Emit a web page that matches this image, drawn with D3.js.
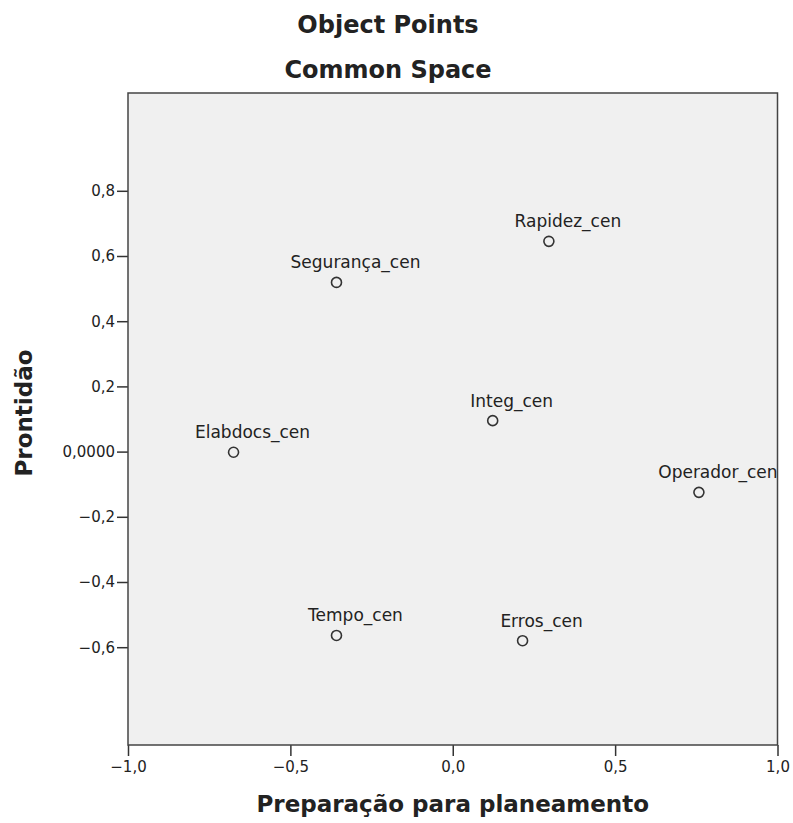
<!DOCTYPE html>
<html lang="pt">
  <head>
    <meta charset="UTF-8" />
    <title>Object Points Common Space</title>
    <style>
      body { margin: 0; background: #fff; }
      svg text { font-family: "DejaVu Sans", Verdana, sans-serif; fill: #222; }
    </style>
  </head>
  <body>
    <svg width="793" height="823"></svg>

    <script src="https://d3js.org/d3.v7.min.js"></script>
    <script>
      // Point labels and coordinates
      const labels = ["Rapidez_cen", "Segurança_cen", "Integ_cen", "Elabdocs_cen", "Operador_cen", "Tempo_cen", "Erros_cen"];
      const dim1 = [0.296, -0.358, 0.123, -0.675, 0.758, -0.358, 0.215];
      const dim2 = [0.645, 0.519, 0.095, -0.002, -0.125, -0.564, -0.580];

      const xTicks = [-1.0, -0.5, 0.0, 0.5, 1.0];
      const yTicks = [0.8, 0.6, 0.4, 0.2, 0.0, -0.2, -0.4, -0.6];

      const plotL = 128, plotR = 777.5, plotT = 93, plotB = 745;

      const svg = d3.select("svg");

      const xScale = d3.scaleLinear().domain([-1, 1]).range([plotL, plotR]);
      const yScale = d3.scaleLinear().domain([-0.9, 1.1]).range([plotB, plotT]);

      const fmt = (d) => (d < 0 ? "\u2212" : "") + Math.abs(d).toFixed(1).replace(".", ",");

      // plot background
      svg.append("rect")
        .attr("x", plotL).attr("y", plotT)
        .attr("width", plotR - plotL).attr("height", plotB - plotT)
        .attr("fill", "#f0f0f0");

      // axes
      const xAxis = d3.axisBottom(xScale).tickValues(xTicks).tickSize(11).tickSizeOuter(0).tickPadding(5).tickFormat(fmt);
      const yAxis = d3.axisLeft(yScale).tickValues(yTicks).tickSize(11).tickSizeOuter(0).tickPadding(2)
        .tickFormat((d) => (d === 0 ? "0,0000" : fmt(d)));

      const gx = svg.append("g").attr("transform", `translate(0,${plotB})`).call(xAxis);
      const gy = svg.append("g").attr("transform", `translate(${plotL},0)`).call(yAxis);
      [gx, gy].forEach((g) => {
        g.select(".domain").remove();
        g.selectAll(".tick line").attr("stroke", "#333").attr("stroke-width", 1.5);
        g.selectAll(".tick text").style("font-size", "15px").attr("fill", "#333");
      });

      // frame
      svg.append("rect")
        .attr("x", plotL).attr("y", plotT)
        .attr("width", plotR - plotL).attr("height", plotB - plotT)
        .attr("fill", "none").attr("stroke", "#444").attr("stroke-width", 1.5);

      // points
      const pts = svg.append("g").selectAll("g").data(labels).enter().append("g");
      pts.append("circle")
        .attr("cx", (d, i) => xScale(dim1[i]))
        .attr("cy", (d, i) => yScale(dim2[i]))
        .attr("r", 5)
        .attr("fill", "none")
        .attr("stroke", "#333")
        .attr("stroke-width", 1.6);
      pts.append("text")
        .attr("x", (d, i) => xScale(dim1[i]) + 19)
        .attr("y", (d, i) => yScale(dim2[i]) - 14)
        .attr("text-anchor", "middle")
        .style("font-size", "17px")
        .attr("fill", "#333")
        .text((d) => d);

      // titles
      svg.append("text").attr("x", 388).attr("y", 33).attr("text-anchor", "middle")
        .style("font-size", "24px").style("font-weight", "bold").text("Object Points");
      svg.append("text").attr("x", 388).attr("y", 78).attr("text-anchor", "middle")
        .style("font-size", "24px").style("font-weight", "bold").text("Common Space");

      svg.append("text").attr("x", (plotL + plotR) / 2).attr("y", 812).attr("text-anchor", "middle")
        .style("font-size", "23px").style("font-weight", "bold").text("Preparação para planeamento");
      svg.append("text")
        .attr("transform", `translate(32,413) rotate(-90)`)
        .attr("text-anchor", "middle")
        .style("font-size", "23px").style("font-weight", "bold").text("Prontidão");
    </script>
  </body>
</html>
